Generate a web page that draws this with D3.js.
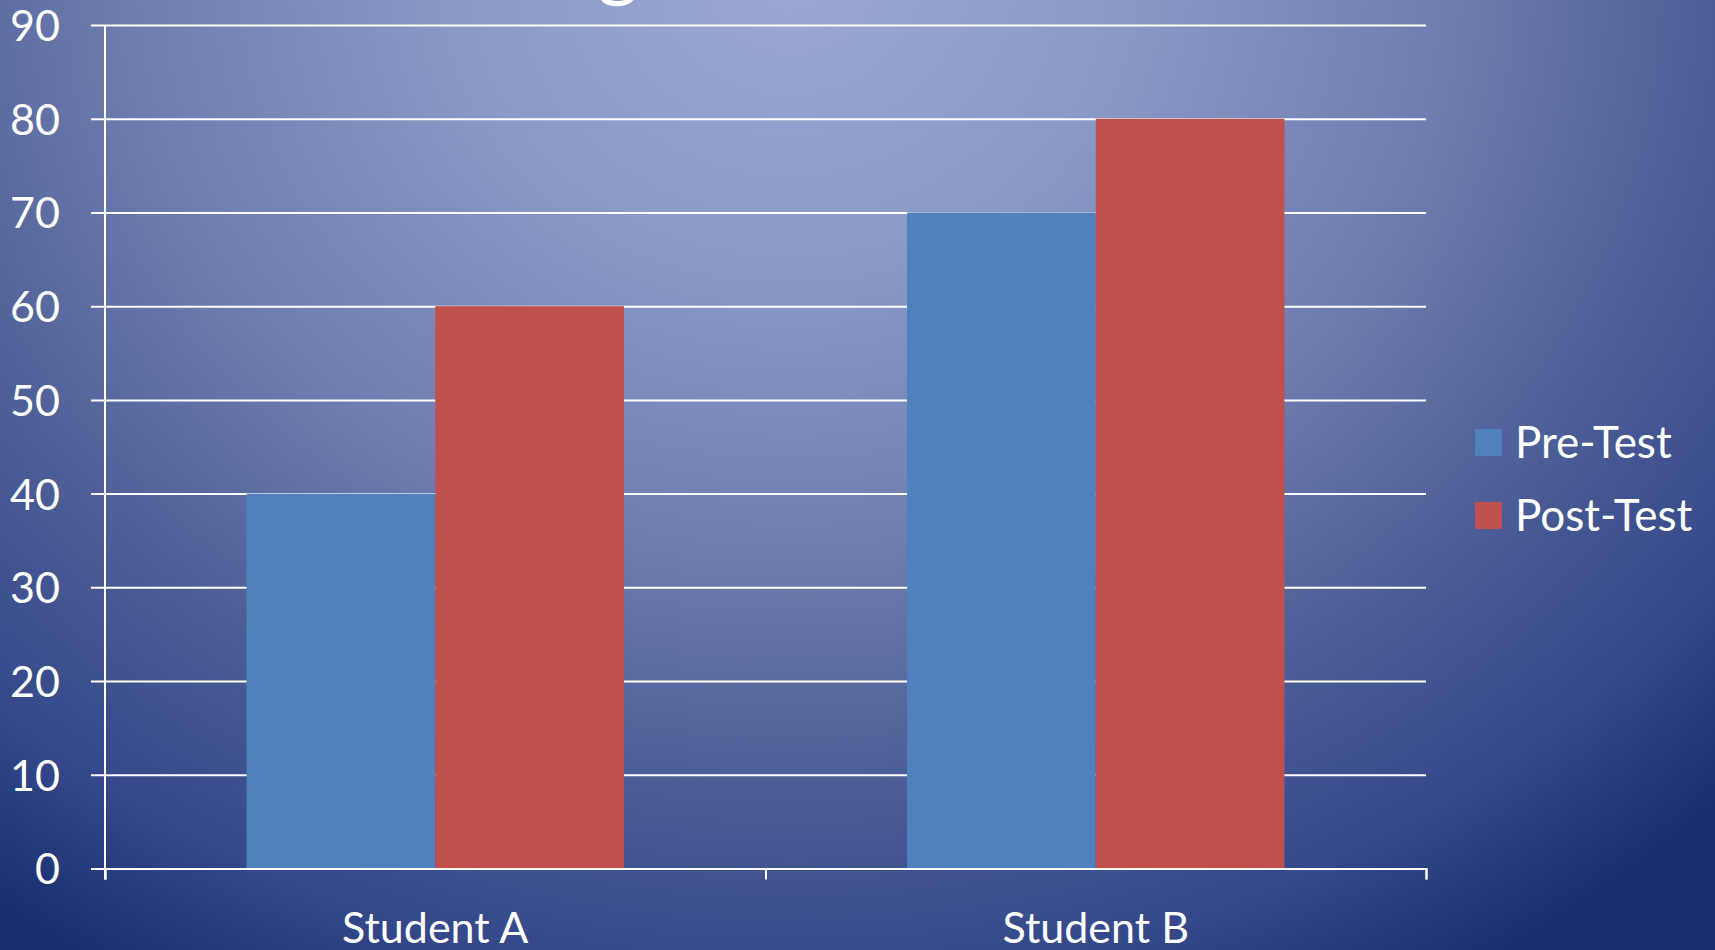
<!DOCTYPE html>
<html>
<head>
<meta charset="utf-8">
<script src="https://cdn.jsdelivr.net/npm/d3@7"></script>
<style>
  html, body { margin: 0; padding: 0; overflow: hidden; }
  #wrapper svg { display: block; }
  text { font-family: Lato, "Open Sans", sans-serif; fill: #fff; }
</style>
</head>
<body>
<div id="wrapper"></div>
<script>
const categories = ['Student A', 'Student B']
const seriesNames = ['Pre-Test', 'Post-Test']
const preTest = [40, 70]
const postTest = [60, 80]
const yTicks = [0, 10, 20, 30, 40, 50, 60, 70, 80, 90]
const titleText = 'Student Progress'

const colors = ['#4f81bd', '#c0504d']

function drawBars() {

  //build rows for the grouped bars
  const dataset = categories.map((c, i) => ({
    category: c,
    values: [preTest[i], postTest[i]]
  }))

  //create dimensions
  let dimensions = {
    width: 1715,
    height: 950,
    margin: {
      top: 25,
      right: 289,
      bottom: 81.5,
      left: 105
    }
  }
  dimensions.boundedWidth = dimensions.width - dimensions.margin.left - dimensions.margin.right
  dimensions.boundedHeight = dimensions.height - dimensions.margin.top - dimensions.margin.bottom

  //create chart area
  const wrapper = d3.select('#wrapper')
    .append('svg')
      .attr('width', dimensions.width)
      .attr('height', dimensions.height)

  // background
  const defs = wrapper.append('defs')
  const grad = defs.append('radialGradient')
      .attr('id', 'bg')
      .attr('gradientUnits', 'userSpaceOnUse')
      .attr('cx', 790)
      .attr('cy', -20)
      .attr('r', 1150)
      .attr('gradientTransform', 'translate(790,-20) scale(1.15,1) translate(-790,20)')
  const stops = [
    [0, '#9ba8d3'],
    [0.25, '#8b99c7'],
    [0.5, '#6e7daf'],
    [0.7, '#4c5e96'],
    [0.87, '#34488a'],
    [1, '#192f70']
  ]
  grad.selectAll('stop')
    .data(stops)
    .join('stop')
      .attr('offset', d => d[0])
      .attr('stop-color', d => d[1])

  wrapper.append('rect')
      .attr('width', dimensions.width)
      .attr('height', dimensions.height)
      .attr('fill', 'url(#bg)')

  // title, mostly above the visible area
  const title = wrapper.append('text')
      .attr('y', -9)
      .style('font-size', '80px')
      .text(titleText)
  const gIndex = titleText.indexOf('g')
  const node = title.node()
  const before = node.getSubStringLength(0, gIndex)
  const gWidth = node.getSubStringLength(gIndex, 1)
  title.attr('x', 618 - before - gWidth / 2)

  const bounds = wrapper.append('g')
    .style('transform', `translate(${dimensions.margin.left}px, ${dimensions.margin.top}px)`)

  //create scales
  const xScale = d3.scaleBand()
    .domain(categories)
    .range([0, dimensions.boundedWidth])
    .paddingInner(0.75 / 1.75)
    .paddingOuter(0.75 / 3.5)

  const xSeries = d3.scaleBand()
    .domain(seriesNames)
    .range([0, xScale.bandwidth()])

  const yScale = d3.scaleLinear()
    .domain([0, 90])
    .range([dimensions.boundedHeight, 0])

  const colorScale = d3.scaleOrdinal()
    .domain(seriesNames)
    .range(colors)

  //gridlines with left ticks
  const yAxisGenerator = d3.axisLeft()
    .scale(yScale)
    .tickValues(yTicks)
    .tickSize(-dimensions.boundedWidth)
    .tickPadding(0)
    .tickFormat(() => '')

  const yGrid = bounds.append('g')
    .call(yAxisGenerator)
  yGrid.select('.domain').remove()
  yGrid.selectAll('.tick line')
      .attr('x1', -14)
      .attr('stroke', '#fff')
      .attr('stroke-width', 2)

  //draw bars
  const groups = bounds.selectAll('.group')
    .data(dataset)
    .join('g')
      .attr('class', 'group')
      .attr('transform', d => `translate(${xScale(d.category)},0)`)

  groups.selectAll('rect')
    .data(d => d.values.map((v, i) => ({ series: seriesNames[i], value: v })))
    .join('rect')
      .attr('x', d => xSeries(d.series))
      .attr('y', d => yScale(d.value))
      .attr('width', xSeries.bandwidth())
      .attr('height', d => dimensions.boundedHeight - yScale(d.value))
      .attr('fill', d => colorScale(d.series))

  //y axis labels
  const yAxis = bounds.append('g')
    .call(d3.axisLeft().scale(yScale).tickValues(yTicks).tickSize(0).tickPadding(45))
  yAxis.select('.domain').remove()
  yAxis.selectAll('text')
      .attr('fill', '#fff')
      .style('font-family', 'Lato, sans-serif')
      .style('font-size', '43px')
      .attr('dy', '0.36em')

  bounds.append('line')
      .attr('x1', 0).attr('x2', 0)
      .attr('y1', 0).attr('y2', dimensions.boundedHeight + 11)
      .attr('stroke', '#fff')
      .attr('stroke-width', 2)

  //x axis
  const xEdges = d3.scaleLinear()
    .domain([0, categories.length])
    .range([0, dimensions.boundedWidth])

  const xAxisGenerator = d3.axisBottom()
    .scale(xEdges)
    .ticks(categories.length)
    .tickSize(11)
    .tickFormat(() => '')

  const xAxis = bounds.append('g')
    .call(xAxisGenerator)
      .style('transform', `translateY(${dimensions.boundedHeight}px)`)
  xAxis.select('.domain')
      .attr('stroke', '#fff')
      .attr('stroke-width', 2)
  xAxis.selectAll('.tick line')
      .attr('stroke', '#fff')
      .attr('stroke-width', 2)

  bounds.selectAll('.x-label')
    .data(categories)
    .join('text')
      .attr('class', 'x-label')
      .attr('x', d => xScale(d) + xScale.bandwidth() / 2)
      .attr('y', dimensions.boundedHeight + 74)
      .attr('text-anchor', 'middle')
      .style('font-size', '43px')
      .text(d => d)

  //legend
  const legend = wrapper.append('g')
      .attr('transform', 'translate(1475, 429)')

  const items = legend.selectAll('g')
    .data(seriesNames)
    .join('g')
      .attr('transform', (d, i) => `translate(0, ${i * 73})`)

  items.append('rect')
      .attr('width', 27)
      .attr('height', 27)
      .attr('fill', d => colorScale(d))

  items.append('text')
      .attr('x', 40)
      .attr('y', 13.5)
      .attr('dy', '0.36em')
      .style('font-size', '44px')
      .text(d => d)
}
drawBars()
</script>
</body>
</html>
